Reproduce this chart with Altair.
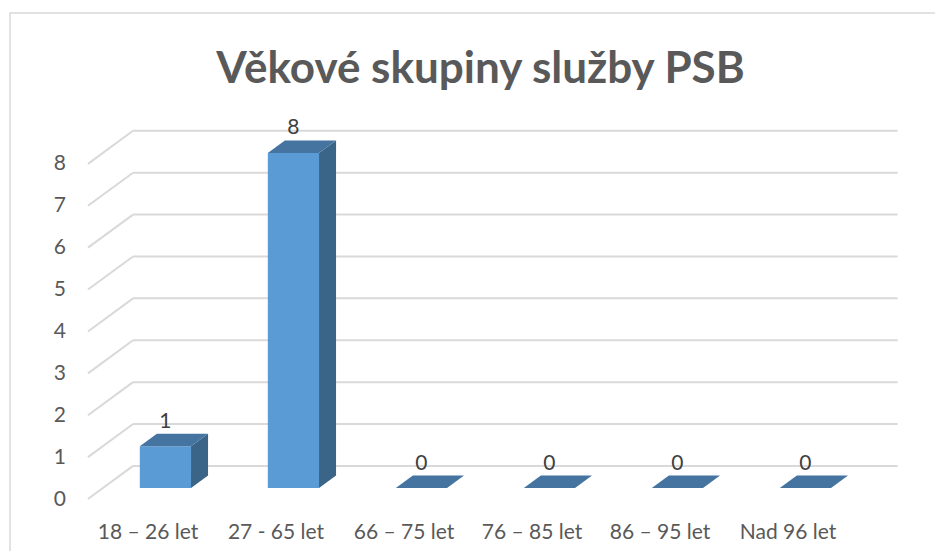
import json
import altair as alt
import pandas as pd

# ---- data ----
categories = ["18 – 26 let", "27 - 65 let", "66 – 75 let", "76 – 85 let", "86 – 95 let", "Nad 96 let"]
values = [1, 8, 0, 0, 0, 0]
y_ticks = [0, 1, 2, 3, 4, 5, 6, 7, 8]
title_text = "Věkové skupiny služby PSB"

# ---- pseudo-3D geometry (style constants, in scale units) ----
BASE = 0.26      # bar floor lift (depth position)
DEPTH_Y = 0.30   # bar top depth (value units)
DEPTH_X = 0.133  # bar side depth (slot units)
F0, F1 = 0.44, 0.84  # front face within slot
WALL_DX, WALL_DY = 0.352, 0.79
GRID_X0, GRID_X1 = 0.035, 6.36

front, side, top, labels = [], [], [], []
for i, (c, v) in enumerate(zip(categories, values)):
    front.append(dict(cat=c, x=i + F0, x2=i + F1, y=BASE, y2=v + BASE))
    side.append(dict(cat=c, x=i + F1, y=BASE, y2=v + BASE))
    side.append(dict(cat=c, x=i + F1 + DEPTH_X, y=BASE + DEPTH_Y, y2=v + BASE + DEPTH_Y))
    top.append(dict(cat=c, y=v + BASE, x=i + F0, x2=i + F1))
    top.append(dict(cat=c, y=v + BASE + DEPTH_Y, x=i + F0 + DEPTH_X, x2=i + F1 + DEPTH_X))
    labels.append(dict(cat=c, x=i + (F0 + F1) / 2, y=v + BASE + DEPTH_Y, t=str(v)))

wall = [dict(x=GRID_X0 + WALL_DX, x2=GRID_X1, y=t + WALL_DY) for t in y_ticks]
diag = [dict(x=GRID_X0, x2=GRID_X0 + WALL_DX, y=t, y2=t + WALL_DY) for t in y_ticks]

xs = alt.Scale(domain=[0, 6], nice=False, zero=False)
ys = alt.Scale(domain=[0, 9], nice=False, zero=False)

label_expr = json.dumps(categories, ensure_ascii=False) + "[floor(datum.value)]"
x_axis = alt.Axis(values=[i + 0.5 for i in range(len(categories))], labelExpr=label_expr,
                  title=None, domain=False, ticks=False, grid=False, labelPadding=22,
                  labelFontSize=21, labelColor="#595959", labelFont="Lato")
y_axis = alt.Axis(values=y_ticks, title=None, domain=False, ticks=False, grid=False,
                  labelPadding=18, labelFontSize=21, labelColor="#595959", labelFont="Lato")

X = alt.X("x:Q", scale=xs, axis=x_axis)
Y = alt.Y("y:Q", scale=ys, axis=y_axis)

grid_col = "#d9d9d9"
wall_layer = alt.Chart(pd.DataFrame(wall)).mark_rule(color=grid_col, strokeWidth=2).encode(
    x=X, x2="x2:Q", y=Y)
diag_layer = alt.Chart(pd.DataFrame(diag)).mark_rule(color=grid_col, strokeWidth=2).encode(
    x=X, x2="x2:Q", y=Y, y2="y2:Q")

front_layer = alt.Chart(pd.DataFrame(front)).mark_rect(color="#5B9BD5").encode(
    x=X, x2="x2:Q", y=Y, y2="y2:Q")
side_layer = alt.Chart(pd.DataFrame(side)).mark_area(color="#3A6589", orient="vertical").encode(
    x=X, y=Y, y2="y2:Q", detail="cat:N")
top_layer = alt.Chart(pd.DataFrame(top)).mark_area(color="#4574A1", orient="horizontal").encode(
    y=Y, x=X, x2="x2:Q", detail="cat:N")
text_layer = alt.Chart(pd.DataFrame(labels)).mark_text(
    baseline="alphabetic", dy=-6, fontSize=21, font="Lato", color="#404040").encode(
    x=X, y=Y, text="t:N")

border = alt.Chart(pd.DataFrame({"a": [0]})).mark_rect(
    fill="transparent", stroke="#d9d9d9", strokeWidth=1.5).encode(
    x=alt.value(-73.5), x2=alt.value(900), y=alt.value(-109), y2=alt.value(480))

chart = alt.layer(border, wall_layer, diag_layer, front_layer, side_layer, top_layer, text_layer).properties(
    width=768, height=377, background="white",
    title=alt.TitleParams(title_text, font="Lato", fontSize=44, fontWeight="bold", color="#595959",
                          anchor="middle", frame="group", baseline="alphabetic", offset=-115, dx=13),
    autosize=alt.AutoSizeParams(type="none"),
    padding={"left": 75.5, "top": 114, "right": 83.5, "bottom": 52},
).configure_view(strokeWidth=0)

chart.save("out.html", embed_options={"renderer": "svg", "actions": False})
